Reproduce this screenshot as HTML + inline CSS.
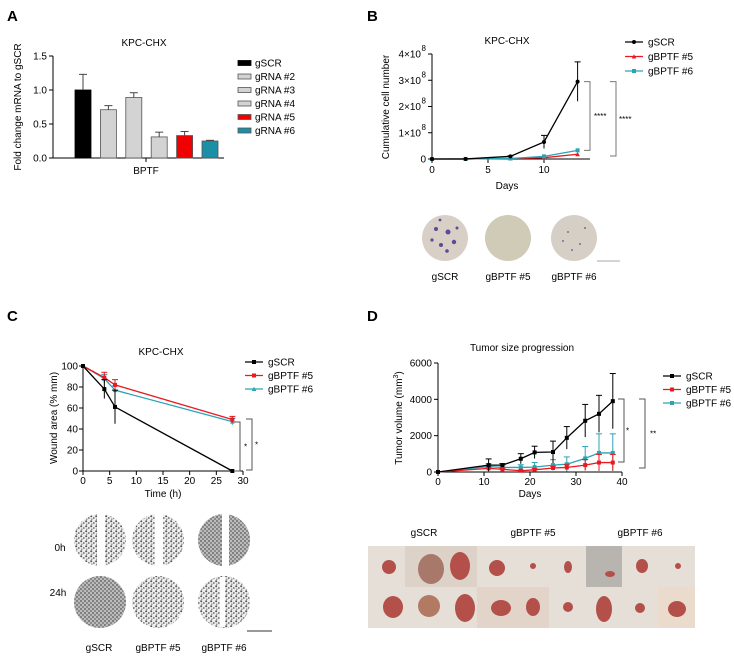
<!DOCTYPE html>
<html><head><meta charset="utf-8"><style>
body{margin:0;background:#fff}
svg{display:block;font-family:"Liberation Sans",Arial,sans-serif}
</style></head><body>
<svg id="fig" width="734" height="658" viewBox="0 0 734 658" xmlns="http://www.w3.org/2000/svg">
<defs>
<pattern id="cells" width="5" height="5" patternUnits="userSpaceOnUse"><rect width="5" height="5" fill="#eee"/><circle cx="1.2" cy="1.2" r="1" fill="#555"/><circle cx="3.8" cy="3" r="0.9" fill="#666"/><circle cx="1.8" cy="4.2" r="0.7" fill="#777"/></pattern>
<pattern id="cellsD" width="4" height="4" patternUnits="userSpaceOnUse"><rect width="4" height="4" fill="#bbb"/><circle cx="1" cy="1" r="0.9" fill="#555"/><circle cx="3" cy="3" r="0.9" fill="#666"/></pattern>
</defs>
<g font-weight="bold" font-size="15">
<text x="7" y="21">A</text>
<text x="367" y="21">B</text>
<text x="7" y="321">C</text>
<text x="367" y="321">D</text>
</g>
<g id="pa"></g>
<g id="pb"></g>
<g id="pc"></g>
<g id="pd"></g>
<g>
<circle cx="445" cy="238" r="23" fill="#d8d0c6"/>
<g fill="#5a4a9a"><circle cx="436" cy="229" r="2"/><circle cx="448" cy="232" r="2.5"/><circle cx="441" cy="245" r="2"/><circle cx="454" cy="242" r="2.2"/><circle cx="432" cy="240" r="1.6"/><circle cx="447" cy="251" r="1.8"/><circle cx="457" cy="228" r="1.5"/><circle cx="440" cy="220" r="1.4"/></g>
<circle cx="508" cy="238" r="23" fill="#cfcbb7"/>
<circle cx="574" cy="238" r="23" fill="#d6cfc5"/>
<g fill="#7a6aa0"><circle cx="568" cy="232" r="1"/><circle cx="580" cy="244" r="1"/><circle cx="572" cy="250" r="1"/><circle cx="585" cy="228" r="1"/><circle cx="563" cy="241" r="1"/></g>
<line x1="597" y1="261" x2="620" y2="261" stroke="#aaa" stroke-width="1"/>
<g font-size="10" text-anchor="middle"><text x="445" y="280">gSCR</text><text x="508" y="280">gBPTF #5</text><text x="574" y="280">gBPTF #6</text></g>
</g>
<g>
<text x="60" y="551" font-size="10" text-anchor="middle">0h</text>
<text x="58" y="596" font-size="10" text-anchor="middle">24h</text>
<circle cx="100" cy="540" r="26" fill="url(#cells)"/><rect x="97" y="514" width="8" height="52" fill="#fff"/>
<circle cx="158" cy="540" r="26" fill="url(#cells)"/><rect x="155" y="514" width="8" height="52" fill="#fff"/>
<circle cx="224" cy="540" r="26" fill="url(#cellsD)"/><rect x="222" y="514" width="7" height="52" fill="#fff"/>
<circle cx="100" cy="602" r="26" fill="url(#cellsD)"/>
<circle cx="158" cy="602" r="26" fill="url(#cells)"/>
<circle cx="224" cy="602" r="26" fill="url(#cells)"/><rect x="220" y="577" width="5" height="50" fill="#fff"/>
<line x1="247" y1="631" x2="272" y2="631" stroke="#333"/>
<g font-size="10" text-anchor="middle"><text x="99" y="651">gSCR</text><text x="158" y="651">gBPTF #5</text><text x="224" y="651">gBPTF #6</text></g>
</g>
<g>
<g font-size="10" text-anchor="middle"><text x="424" y="536">gSCR</text><text x="533" y="536">gBPTF #5</text><text x="640" y="536">gBPTF #6</text></g>
<rect x="368" y="546" width="327" height="82" fill="#e6dfd8"/>
<rect x="405" y="546" width="72" height="41" fill="#ddd2c8"/><rect x="586" y="546" width="36" height="41" fill="#b8b4b0"/><rect x="477" y="587" width="72" height="41" fill="#e2d4c8"/><rect x="658" y="587" width="37" height="41" fill="#eadbcc"/>
<g fill="#b4504a"><ellipse cx="389" cy="567" rx="7" ry="7"/><ellipse cx="431" cy="569" rx="13" ry="15" fill="#a8786a"/><ellipse cx="460" cy="566" rx="10" ry="14"/><ellipse cx="497" cy="568" rx="8" ry="8"/><circle cx="533" cy="566" r="3"/><ellipse cx="568" cy="567" rx="4" ry="6"/><ellipse cx="610" cy="574" rx="5" ry="3"/><ellipse cx="642" cy="566" rx="6" ry="7"/><circle cx="678" cy="566" r="3"/>
<ellipse cx="393" cy="607" rx="10" ry="11"/><ellipse cx="429" cy="606" rx="11" ry="11" fill="#b27a62"/><ellipse cx="465" cy="608" rx="10" ry="14"/><ellipse cx="501" cy="608" rx="10" ry="8"/><ellipse cx="533" cy="607" rx="7" ry="9"/><ellipse cx="568" cy="607" rx="5" ry="5"/><ellipse cx="604" cy="609" rx="8" ry="13"/><circle cx="640" cy="608" r="5"/><ellipse cx="677" cy="609" rx="9" ry="8"/></g>
</g>
</svg>
<script>
const aCats=["gSCR","gRNA #2","gRNA #3","gRNA #4","gRNA #5","gRNA #6"];
const aVals=[1.0,0.71,0.89,0.31,0.33,0.25];
const aErr=[0.23,0.06,0.07,0.07,0.06,0.01];
const aColors=["#000","#d3d3d3","#d3d3d3","#d3d3d3","#f00000","#1b8fa6"];
const aTicks=[0,0.5,1.0,1.5];
const bDays=[0,3,7,10,13];
const bSCR=[0,0.002,0.1,0.65,2.95];
const bSCRerr=[0,0,0.02,0.25,0.75];
const b5=[0,0.002,0.02,0.05,0.18];
const b6=[0,0.002,0.02,0.1,0.33];
const bTicksY=[0,1,2,3,4];
const bTicksX=[0,5,10];
const cTime=[0,4,6,28];
const cSCR=[100,78,61,0];
const cSCRerr=[0,9,16,0];
const c5=[100,89,82,49];
const c5err=[0,5,5,3];
const c6=[100,88,77,47];
const c6err=[0,4,4,3];
const cTicksY=[0,20,40,60,80,100];
const cTicksX=[0,5,10,15,20,25,30];
const dDays=[0,11,14,18,21,25,28,32,35,38];
const dSCR=[0,380,380,730,1080,1100,1880,2820,3200,3900];
const dSCRerr=[0,340,80,280,340,600,620,900,1020,1520];
const d5=[0,200,150,70,120,220,250,380,520,520];
const d5err=[0,60,60,40,60,100,150,300,450,450];
const d6=[0,300,250,250,270,380,430,750,1050,1050];
const d6err=[0,150,120,150,250,300,400,650,1050,1050];
const dTicksY=[0,2000,4000,6000];
const dTicksX=[0,10,20,30,40];

const NS="http://www.w3.org/2000/svg";
function el(parent,tag,attrs,text){const e=document.createElementNS(NS,tag);for(const k in attrs)e.setAttribute(k,attrs[k]);if(text!==undefined)e.textContent=text;parent.appendChild(e);return e;}
function lin(d0,d1,r0,r1){return v=>r0+(v-d0)*(r1-r0)/(d1-d0);}

(function(){
const g=document.getElementById('pa');
const y=lin(0,1.5,158,56);
el(g,'text',{x:144,y:46,'font-size':10,'text-anchor':'middle'},'KPC-CHX');
el(g,'line',{x1:53,y1:56,x2:53,y2:158,stroke:'#000'});
el(g,'line',{x1:53,y1:158,x2:224,y2:158,stroke:'#000'});
el(g,'line',{x1:146,y1:158,x2:146,y2:162,stroke:'#000'});
aTicks.forEach(t=>{el(g,'line',{x1:49,y1:y(t),x2:53,y2:y(t),stroke:'#000'});
 el(g,'text',{x:47,y:y(t)+3.5,'font-size':10,'text-anchor':'end'},t.toFixed(1));});
el(g,'text',{x:146,y:174,'font-size':10,'text-anchor':'middle'},'BPTF');
el(g,'text',{transform:'translate(21,107) rotate(-90)','font-size':10,'text-anchor':'middle'},'Fold change mRNA to gSCR');
aVals.forEach((v,i)=>{const x=75+i*25.4;
 const b=el(g,'rect',{x:x,y:y(v),width:16,height:158-y(v),fill:aColors[i],stroke:i==0?'#000':'#555','stroke-width':0.8});
 
 
 el(g,'line',{x1:x+8,y1:y(v),x2:x+8,y2:y(v+aErr[i]),stroke:'#444'});
 el(g,'line',{x1:x+4,y1:y(v+aErr[i]),x2:x+12,y2:y(v+aErr[i]),stroke:'#444'});
 const ly=63+i*13.5;
 const le=el(g,'g',{});
 
 
 el(le,'rect',{x:238,y:ly-2.5,width:13,height:5,fill:aColors[i],stroke:i==0?'#000':'#555','stroke-width':0.8});
 el(le,'text',{x:255,y:ly+3.5,'font-size':10},aCats[i]);
});
})();

function lineChart(g,xs,ys,errs,x,y,color,marker){
 let d='';xs.forEach((v,i)=>{d+=(i?'L':'M')+x(v)+','+y(ys[i]);});
 el(g,'path',{d:d,fill:'none',stroke:color,'stroke-width':1.3});
 xs.forEach((v,i)=>{
  if(errs&&errs[i]>0){el(g,'line',{x1:x(v),y1:y(ys[i]+errs[i]),x2:x(v),y2:y(Math.max(0,ys[i]-errs[i])),stroke:color,'stroke-width':1});
   el(g,'line',{x1:x(v)-3,y1:y(ys[i]+errs[i]),x2:x(v)+3,y2:y(ys[i]+errs[i]),stroke:color,'stroke-width':1});}
  if(marker=='c')el(g,'circle',{cx:x(v),cy:y(ys[i]),r:2,fill:color});
  else if(marker=='t')el(g,'path',{d:`M${x(v)-2.3},${y(ys[i])+2}L${x(v)+2.3},${y(ys[i])+2}L${x(v)},${y(ys[i])-2.3}Z`,fill:color});
  else el(g,'rect',{x:x(v)-2,y:y(ys[i])-2,width:4,height:4,fill:color});
 });
}
function legend(g,x,y0,dy,names,colors,markers){
 names.forEach((n,i)=>{const ly=y0+i*dy;
  const le=el(g,'g',{});
  
  
  el(le,'line',{x1:x,y1:ly,x2:x+18,y2:ly,stroke:colors[i],'stroke-width':1.3});
  if(markers[i]=='c')el(le,'circle',{cx:x+9,cy:ly,r:2,fill:colors[i]});
  else if(markers[i]=='t')el(le,'path',{d:`M${x+6.7},${ly+2}L${x+11.3},${ly+2}L${x+9},${ly-2.3}Z`,fill:colors[i]});
  else el(le,'rect',{x:x+7,y:ly-2,width:4,height:4,fill:colors[i]});
  el(le,'text',{x:x+23,y:ly+3.5,'font-size':10},n);
 });
}
function bracket(g,x,y1,y2,lab,lx,color){
 el(g,'path',{d:`M${x},${y1}H${x+6}V${y2}H${x}`,fill:'none',stroke:color||'#555','stroke-width':1});
 el(g,'text',{x:lx,y:(y1+y2)/2+3,'font-size':8},lab);
}
const RED="#e8191f",TEAL="#2aa3b5";
(function(){
const g=document.getElementById('pb');
const x=lin(0,10,432,544), y=lin(0,4,159,54);
el(g,'text',{x:507,y:44,'font-size':10,'text-anchor':'middle'},'KPC-CHX');
el(g,'line',{x1:432,y1:54,x2:432,y2:159,stroke:'#000'});
el(g,'line',{x1:432,y1:159,x2:590,y2:159,stroke:'#000'});
bTicksY.forEach(t=>{el(g,'line',{x1:428,y1:y(t),x2:432,y2:y(t),stroke:'#000'});
 if(t==0)el(g,'text',{x:426,y:y(t)+3.5,'font-size':10,'text-anchor':'end'},'0');
 else{el(g,'text',{x:421,y:y(t)+3.5,'font-size':10,'text-anchor':'end'},t+'×10');
  el(g,'text',{x:421.5,y:y(t)-3,'font-size':8},'8');}});
bTicksX.forEach(t=>{el(g,'line',{x1:x(t),y1:159,x2:x(t),y2:163,stroke:'#000'});
 el(g,'text',{x:x(t),y:173,'font-size':10,'text-anchor':'middle'},t);});
el(g,'text',{x:507,y:189,'font-size':10,'text-anchor':'middle'},'Days');
el(g,'text',{transform:'translate(389,107) rotate(-90)','font-size':10,'text-anchor':'middle'},'Cumulative cell number');
lineChart(g,bDays,b5,null,x,y,RED,'t');
lineChart(g,bDays,b6,null,x,y,TEAL,'s');
lineChart(g,bDays,bSCR,bSCRerr,x,y,'#000','c');
legend(g,625,42,14.5,['gSCR','gBPTF #5','gBPTF #6'],['#000',RED,TEAL],['c','t','s']);
bracket(g,584,y(bSCR[4]),y(b6[4]),'****',594,'#777');
bracket(g,610,y(bSCR[4]),156,'****',619,'#777');
})();
(function(){
const g=document.getElementById('pc');
const x=lin(0,30,83,243), y=lin(0,100,471,366);
el(g,'text',{x:161,y:355,'font-size':10,'text-anchor':'middle'},'KPC-CHX');
el(g,'line',{x1:83,y1:366,x2:83,y2:471,stroke:'#000'});
el(g,'line',{x1:83,y1:471,x2:243,y2:471,stroke:'#000'});
cTicksY.forEach(t=>{el(g,'line',{x1:79,y1:y(t),x2:83,y2:y(t),stroke:'#000'});
 el(g,'text',{x:78,y:y(t)+3.5,'font-size':10,'text-anchor':'end'},t);});
cTicksX.forEach(t=>{el(g,'line',{x1:x(t),y1:471,x2:x(t),y2:475,stroke:'#000'});
 el(g,'text',{x:x(t),y:484,'font-size':10,'text-anchor':'middle'},t);});
el(g,'text',{x:163,y:497,'font-size':10,'text-anchor':'middle'},'Time (h)');
el(g,'text',{transform:'translate(57,418) rotate(-90)','font-size':10,'text-anchor':'middle'},'Wound area (% mm)');
lineChart(g,cTime,c6,c6err,x,y,TEAL,'t');
lineChart(g,cTime,c5,c5err,x,y,RED,'s');
lineChart(g,cTime,cSCR,cSCRerr,x,y,'#000','s');
legend(g,245,362,13.5,['gSCR','gBPTF #5','gBPTF #6'],['#000',RED,TEAL],['s','s','t']);
bracket(g,234,422,471,'*',244,'#555');
bracket(g,246,419,470,'*',255,'#555');
})();
(function(){
const g=document.getElementById('pd');
const x=lin(0,40,438,622), y=lin(0,6000,472,363);
el(g,'text',{x:522,y:351,'font-size':10,'text-anchor':'middle'},'Tumor size progression');
el(g,'line',{x1:438,y1:363,x2:438,y2:472,stroke:'#000'});
el(g,'line',{x1:438,y1:472,x2:622,y2:472,stroke:'#000'});
dTicksY.forEach(t=>{el(g,'line',{x1:434,y1:y(t),x2:438,y2:y(t),stroke:'#000'});
 el(g,'text',{x:432,y:y(t)+3.5,'font-size':10,'text-anchor':'end'},t);});
dTicksX.forEach(t=>{el(g,'line',{x1:x(t),y1:472,x2:x(t),y2:476,stroke:'#000'});
 el(g,'text',{x:x(t),y:485,'font-size':10,'text-anchor':'middle'},t);});
el(g,'text',{x:530,y:497,'font-size':10,'text-anchor':'middle'},'Days');
const yl=el(g,'text',{transform:'translate(402,418) rotate(-90)','font-size':10,'text-anchor':'middle'},'Tumor volume (mm');
el(yl,'tspan',{'font-size':7,dy:-4},'3');
el(yl,'tspan',{dy:4},')');
lineChart(g,dDays,d6,d6err,x,y,TEAL,'s');
lineChart(g,dDays,d5,d5err,x,y,RED,'s');
lineChart(g,dDays,dSCR,dSCRerr,x,y,'#000','s');
legend(g,663,376,13.5,['gSCR','gBPTF #5','gBPTF #6'],['#000',RED,TEAL],['s','s','s']);
bracket(g,618,399,462,'*',626,'#555');
bracket(g,639,399,468,'**',650,'#555');
})();
</script>
</body></html>
